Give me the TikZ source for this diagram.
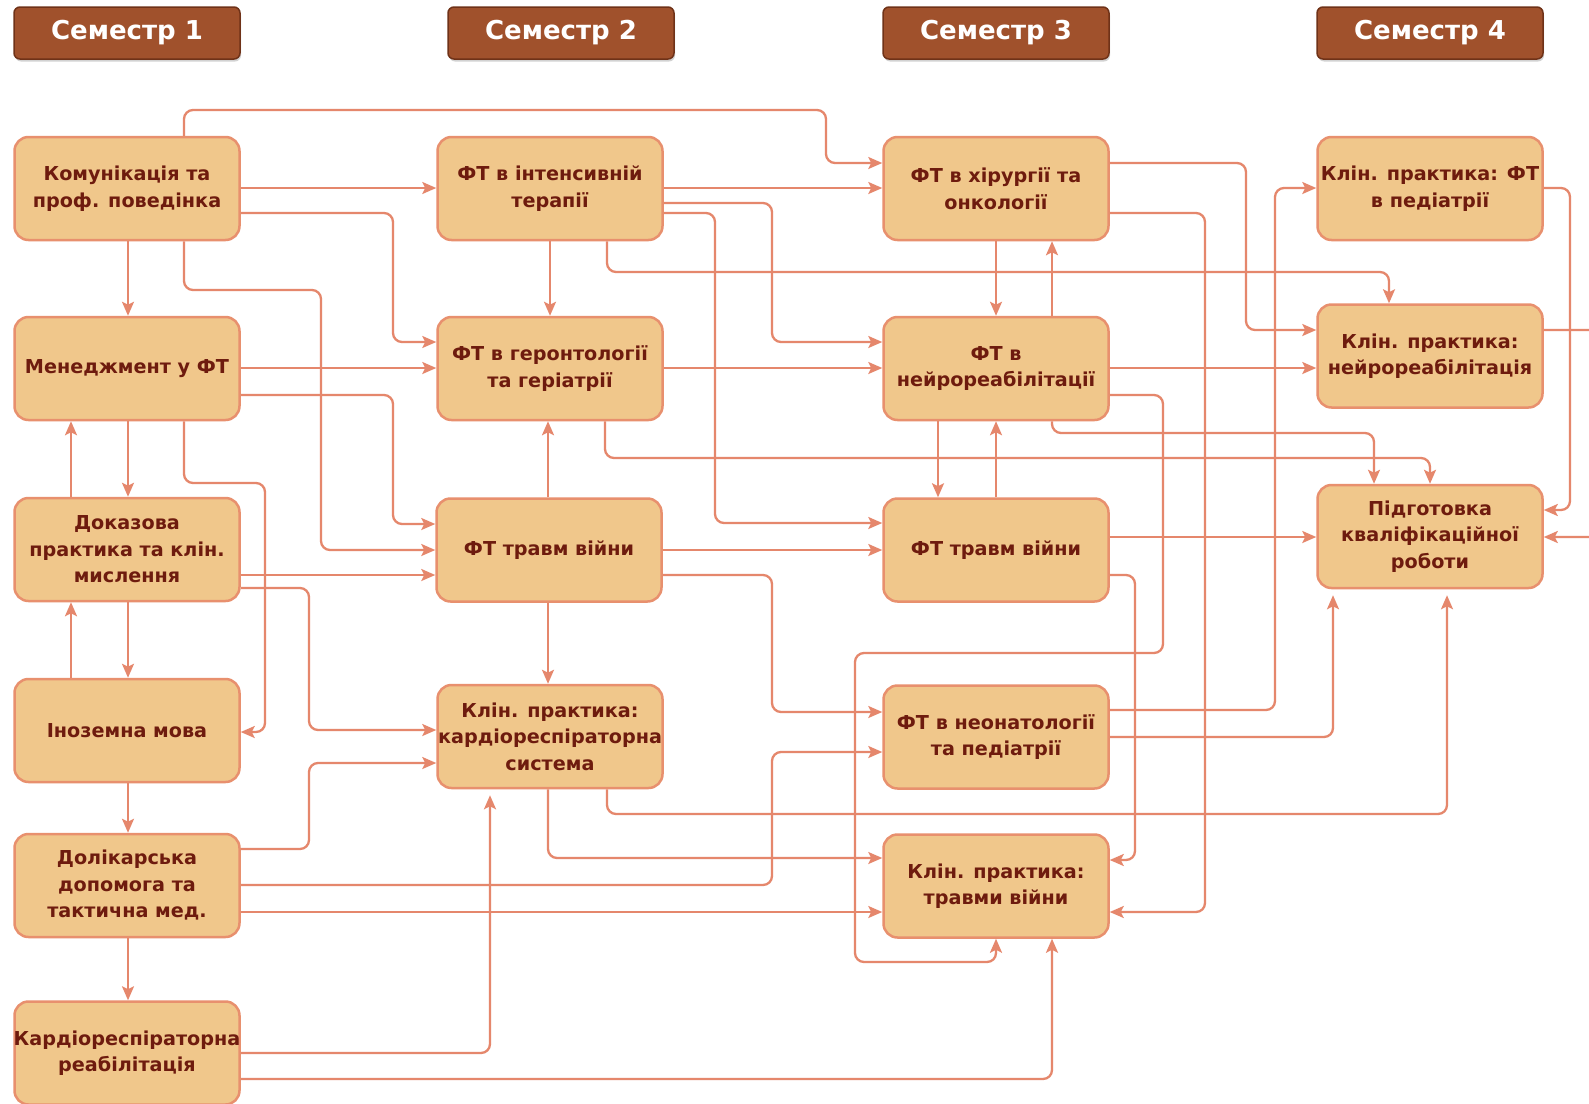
\documentclass[tikz,border=0pt]{standalone}
\usepackage{fontspec}
\setmainfont{DejaVu Sans}
\usetikzlibrary{arrows.meta,shadows}
\definecolor{boxfill}{HTML}{F0C78B}
\definecolor{boxline}{HTML}{E8906E}
\definecolor{txt}{HTML}{6E1B0E}
\definecolor{hfill}{HTML}{A0512C}
\definecolor{hline}{HTML}{6F3218}
\definecolor{conncol}{HTML}{E5876C}
\begin{document}
\begin{tikzpicture}[x=1pt,y=-1pt,
  box/.style={draw=boxline, fill=boxfill, line width=2.5pt, rounded corners=14pt,
    minimum width=225pt, minimum height=103pt, inner sep=0pt, align=center,
    text=txt, font=\fontsize{19.2}{26.5}\selectfont\bfseries},
  hdr/.style={draw=hline, fill=hfill, line width=1.5pt, rounded corners=6pt,
    minimum width=226pt, minimum height=52pt, text=white,
    font=\fontsize{26}{30}\selectfont\bfseries,
    drop shadow={shadow xshift=1pt, shadow yshift=-2.5pt, opacity=0.35}},
  conn/.style={draw=conncol, line width=2.3pt, rounded corners=9pt,
    -{Stealth[length=14pt,width=12pt,inset=3pt]}},
  gap/.style={shorten >=6pt}]
\path[use as bounding box] (0,0) rectangle (1589,1103);
\clip (0,0) rectangle (1589,1103);
\fill[white] (0,0) rectangle (1589,1103);

% headers
\node[hdr] (h1) at (127,33) {Семестр 1};
\node[hdr] (h2) at (561,33) {Семестр 2};
\node[hdr] (h3) at (996,33) {Семестр 3};
\node[hdr] (h4) at (1430,33) {Семестр 4};

% column 1
\node[box] (k1) at (127,188.5) {Комунікація та\\проф. поведінка};
\node[box] (k2) at (127,368.5) {Менеджмент у ФТ};
\node[box] (k3) at (127,549.5) {Доказова\\практика та клін.\\мислення};
\node[box] (k4) at (127,730.5) {Іноземна мова};
\node[box] (k5) at (127,885.5) {Долікарська\\допомога та\\тактична мед.};
\node[box] (k6) at (127,1053) {\makebox[0pt]{Кардіореспіраторна}\\реабілітація};
% column 2
\node[box] (s1) at (550,188.5) {ФТ в інтенсивній\\терапії};
\node[box] (s2) at (550,368.5) {ФТ в геронтології\\та геріатрії};
\node[box] (s3) at (549,550) {ФТ травм війни};
\node[box] (s4) at (550,736.5) {Клін. практика:\\\makebox[0pt]{кардіореспіраторна}\\система};
% column 3
\node[box] (t1) at (996,188.5) {ФТ в хірургії та\\онкології};
\node[box] (t2) at (996,368.5) {ФТ в\\\makebox[0pt]{нейрореабілітації}};
\node[box] (t3) at (996,550) {ФТ травм війни};
\node[box] (t4) at (996,737) {\makebox[0pt]{ФТ в неонатології}\\та педіатрії};
\node[box] (t5) at (996,886) {Клін. практика:\\травми війни};
% column 4
\node[box] (f1) at (1430,188.5) {\makebox[0pt]{Клін. практика: ФТ}\\в педіатрії};
\node[box] (f2) at (1430,356) {Клін. практика:\\\makebox[0pt]{нейрореабілітація}};
\node[box] (f3) at (1430,536.5) {Підготовка\\кваліфікаційної\\роботи};

% connectors from column 1
\draw[conn] (k1.north -| 184,0) -- (184,110) -- (826,110) -- (826,163) -- (t1.west |- 0,163);
\draw[conn] (k1.east |- 0,188) -- (s1.west |- 0,188);
\draw[conn] (k1.east |- 0,213) -- (393,213) -- (393,342) -- (s2.west |- 0,342);
\draw[conn] (k1.south -| 128,0) -- (k2.north -| 128,0);
\draw[conn] (k1.south -| 184,0) -- (184,290) -- (321,290) -- (321,550) -- (s3.west |- 0,550);

\draw[conn] (k2.east |- 0,368) -- (s2.west |- 0,368);
\draw[conn] (k2.east |- 0,395) -- (393,395) -- (393,524) -- (s3.west |- 0,524);
\draw[conn] (k2.south -| 128,0) -- (k3.north -| 128,0);
\draw[conn] (k2.south -| 184,0) -- (184,483) -- (265,483) -- (265,732) -- (k4.east |- 0,732);

\draw[conn] (k3.north -| 71,0) -- (k2.south -| 71,0);
\draw[conn] (k3.east |- 0,575) -- (s3.west |- 0,575);
\draw[conn] (k3.east |- 0,588) -- (309,588) -- (309,730) -- (s4.west |- 0,730);
\draw[conn] (k3.south -| 128,0) -- (k4.north -| 128,0);

\draw[conn] (k4.north -| 71,0) -- (k3.south -| 71,0);
\draw[conn] (k4.south -| 128,0) -- (k5.north -| 128,0);

\draw[conn] (k5.east |- 0,849) -- (309,849) -- (309,763) -- (s4.west |- 0,763);
\draw[conn] (k5.east |- 0,885) -- (772,885) -- (772,752) -- (t4.west |- 0,752);
\draw[conn] (k5.east |- 0,912) -- (t5.west |- 0,912);
\draw[conn] (k5.south -| 128,0) -- (k6.north -| 128,0);

\draw[conn,gap] (k6.east |- 0,1053) -- (490,1053) -- (s4.south -| 490,0);
\draw[conn] (k6.east |- 0,1079) -- (1052,1079) -- (t5.south -| 1052,0);

% column 2
\draw[conn] (s1.east |- 0,188) -- (t1.west |- 0,188);
\draw[conn] (s1.east |- 0,203) -- (772,203) -- (772,342) -- (t2.west |- 0,342);
\draw[conn] (s1.east |- 0,213) -- (715,213) -- (715,523) -- (t3.west |- 0,523);
\draw[conn] (s1.south -| 550,0) -- (s2.north -| 550,0);
\draw[conn] (s1.south -| 607,0) -- (607,272) -- (1389,272) -- (f2.north -| 1389,0);

\draw[conn] (s2.east |- 0,368) -- (t2.west |- 0,368);
\draw[conn] (s2.south -| 605,0) -- (605,458) -- (1430,458) -- (f3.north -| 1430,0);

\draw[conn] (s3.north -| 548,0) -- (s2.south -| 548,0);
\draw[conn] (s3.east |- 0,550) -- (t3.west |- 0,550);
\draw[conn] (s3.east |- 0,575) -- (772,575) -- (772,712) -- (t4.west |- 0,712);
\draw[conn] (s3.south -| 548,0) -- (s4.north -| 548,0);

\draw[conn,gap] (s4.south -| 607,0) -- (607,814) -- (1447,814) -- (f3.south -| 1447,0);
\draw[conn] (s4.south -| 548,0) -- (548,858) -- (t5.west |- 0,858);

% column 3
\draw[conn] (t1.south -| 996,0) -- (t2.north -| 996,0);
\draw[conn] (t1.east |- 0,163) -- (1246,163) -- (1246,330) -- (f2.west |- 0,330);
\draw[conn] (t1.east |- 0,213) -- (1205,213) -- (1205,912) -- (t5.east |- 0,912);

\draw[conn] (t2.north -| 1052,0) -- (t1.south -| 1052,0);
\draw[conn] (t2.east |- 0,368) -- (f2.west |- 0,368);
\draw[conn] (t2.east |- 0,395) -- (1163,395) -- (1163,653) -- (855,653) -- (855,962) -- (996,962) -- (t5.south -| 996,0);
\draw[conn] (t2.south -| 1052,0) -- (1052,433) -- (1374,433) -- (f3.north -| 1374,0);
\draw[conn] (t2.south -| 938,0) -- (t3.north -| 938,0);

\draw[conn] (t3.north -| 996,0) -- (t2.south -| 996,0);
\draw[conn] (t3.east |- 0,537) -- (f3.west |- 0,537);
\draw[conn] (t3.east |- 0,575) -- (1135,575) -- (1135,860) -- (t5.east |- 0,860);

\draw[conn] (t4.east |- 0,710) -- (1275,710) -- (1275,188) -- (f1.west |- 0,188);
\draw[conn,gap] (t4.east |- 0,737) -- (1333,737) -- (f3.south -| 1333,0);

% column 4
\draw[conn] (f1.east |- 0,188) -- (1570,188) -- (1570,510) -- (f3.east |- 0,510);
\draw[conn] (f2.east |- 0,330) -- (1605,330) -- (1605,537) -- (f3.east |- 0,537);
\end{tikzpicture}
\end{document}
